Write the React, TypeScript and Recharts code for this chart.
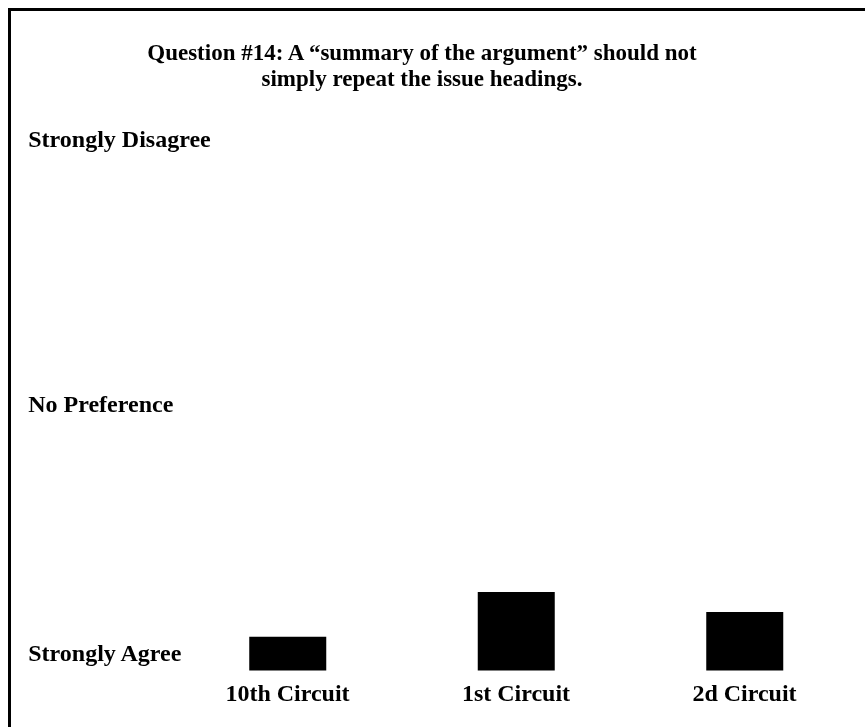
import React from 'react';
import { BarChart, Bar, XAxis, YAxis } from 'recharts';

const titleLines = [
  'Question #14: A \u201csummary of the argument\u201d should not',
  'simply repeat the issue headings.',
];
const circuits = ['10th Circuit', '1st Circuit', '2d Circuit'];
const meanResponse = [1.13, 1.49, 1.33];
const scaleLabels = ['Strongly Agree', 'No Preference', 'Strongly Disagree'];
const scaleValues = [1, 3, 5.13];

const data = circuits.map((c, i) => ({ circuit: c, value: meanResponse[i] }));

const FONT = '"Liberation Serif", "Times New Roman", serif';

const XTick = (props: any) => {
  const { x, y, payload } = props;
  return (
    <text x={x} y={y} dy={31} textAnchor="middle" fontFamily={FONT} fontWeight="bold" fontSize={24} fill="#000">
      {payload.value}
    </text>
  );
};

const YTick = (props: any) => {
  const { x, y, payload } = props;
  const i = scaleValues.indexOf(payload.value);
  return (
    <text x={x - 145} y={y} dy={8.5} textAnchor="start" fontFamily={FONT} fontWeight="bold" fontSize={24} fill="#000">
      {scaleLabels[i]}
    </text>
  );
};

export default function App() {
  return (
    <div>
      <div
        style={{
          position: 'fixed',
          left: 8,
          top: 8,
          width: 2000,
          height: 2000,
          borderTop: '3px solid #000',
          borderLeft: '3px solid #000',
          boxSizing: 'border-box',
        }}
      />
      <div
        style={{
          position: 'fixed',
          left: 0,
          top: 40,
          width: 844,
          textAlign: 'center',
          fontFamily: FONT,
          fontWeight: 'bold',
          fontSize: 23,
          lineHeight: '26px',
          color: '#000',
        }}
      >
        {titleLines.map((t) => (
          <div key={t}>{t}</div>
        ))}
      </div>
      <div style={{ position: 'fixed', left: 0, top: 0 }}>
        <BarChart
          width={865}
          height={727}
          data={data}
          margin={{ top: 117.6, right: 6.25, bottom: 26.6, left: 0 }}
        >
          <XAxis
            dataKey="circuit"
            height={30}
            axisLine={false}
            tickLine={false}
            tickSize={0}
            tickMargin={0}
            interval={0}
            tick={<XTick />}
          />
          <YAxis
            type="number"
            domain={[0.86, 5.3]}
            ticks={scaleValues}
            width={173.25}
            axisLine={false}
            tickLine={false}
            tickSize={0}
            tickMargin={0}
            interval={0}
            tick={<YTick />}
          />
          <Bar dataKey="value" fill="#000" barSize={77} isAnimationActive={false} />
        </BarChart>
      </div>
    </div>
  );
}
